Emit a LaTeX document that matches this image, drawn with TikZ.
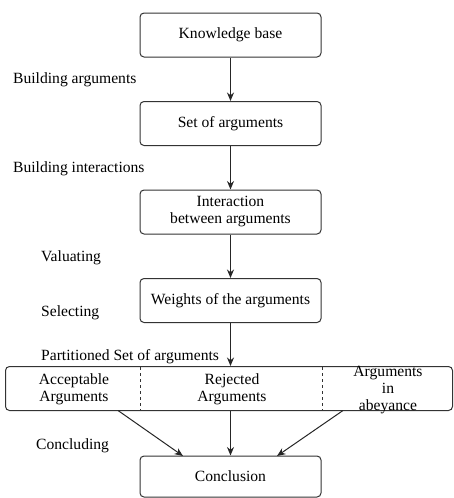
\documentclass[tikz,border=0pt]{standalone}
\usepackage{fontspec}
\setmainfont{Liberation Serif}
\usetikzlibrary{arrows.meta}

\begin{document}
\begin{tikzpicture}[x = 1pt, y = -1pt,
  stepbox/.style = {draw = black!80, line width = 1pt, rounded corners = 4pt,
    minimum width = 181pt, minimum height = 44pt, align = center, inner sep = 1pt},
  steplabel/.style = {anchor = west, inner sep = 0pt},
  flow/.style = {draw = black!85, line width = 1pt, -{Stealth[length = 8.5pt, width = 7pt]}},
  every node/.style = {font = \fontsize{15.6}{17}\selectfont}]
\useasboundingbox (0,0) rectangle (454,498);
\node [stepbox] (kb) at (230.5,35) {Knowledge base};
\node [stepbox] (set) at (230.5,123.5) {Set of arguments};
\node [stepbox] (inter) at (230.5,212) {Interaction\\between arguments};
\node [stepbox] (weights) at (230.5,300.5) {Weights of the arguments};
\node [stepbox, minimum width = 447pt] (part) at (229,388.5) {};
\node [stepbox, minimum height = 41pt] (concl) at (230.5,476.5) {Conclusion};
% dashed separators of the partition
\draw [dashed, black!80, line width = 0.8pt] (140,367) -- (140,410);
\draw [dashed, black!80, line width = 0.8pt] (322,367) -- (322,410);
\node [align = center, inner sep = 0pt] (acc) at (74,389) {Acceptable\\Arguments};
\node [align = center, inner sep = 0pt] (rej) at (232,389) {Rejected\\Arguments};
\node [align = center, inner sep = 0pt] (abey) at (388,390.5) {Arguments\\in\\abeyance};
% labels of the steps
\node [steplabel] (l1) at (13,80) {Building arguments};
\node [steplabel] (l2) at (13,169) {Building interactions};
\node [steplabel] (l3) at (41,258) {Valuating};
\node [steplabel] (l4) at (41,313) {Selecting};
\node [steplabel] (l5) at (41,357) {Partitioned Set of arguments};
\node [steplabel] (l6) at (36,446) {Concluding};
% connectors
\coordinate (pl) at (118,410.5);
\coordinate (pr) at (343,410.5);
\coordinate (cl) at (183,456);
\coordinate (cr) at (277,456);
\draw [flow] (kb) -- (set);
\draw [flow] (set) -- (inter);
\draw [flow] (inter) -- (weights);
\draw [flow] (weights.south) -- (weights.south |- part.north);
\draw [flow] (pl) -- (cl);
\draw [flow] (weights.south |- part.south) -- (concl.north);
\draw [flow] (pr) -- (cr);
\end{tikzpicture}
\end{document}
